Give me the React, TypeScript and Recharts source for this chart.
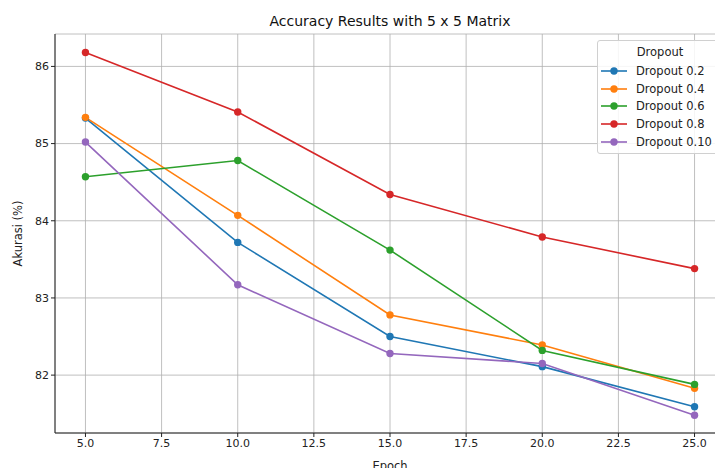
import React from 'react'
import { LineChart, Line, XAxis, YAxis, CartesianGrid } from 'recharts'

const epochs = [5, 10, 15, 20, 25]
const dropout02 = [85.33, 83.72, 82.5, 82.11, 81.59]
const dropout04 = [85.34, 84.07, 82.78, 82.39, 81.83]
const dropout06 = [84.57, 84.78, 83.62, 82.32, 81.88]
const dropout08 = [86.18, 85.41, 84.34, 83.79, 83.38]
const dropout010 = [85.02, 83.17, 82.28, 82.15, 81.48]

const xTicks = [5, 7.5, 10, 12.5, 15, 17.5, 20, 22.5, 25]
const yTicks = [82, 83, 84, 85, 86]

const series = [
  { key: 'd02', name: 'Dropout 0.2', color: '#1f77b4', values: dropout02 },
  { key: 'd04', name: 'Dropout 0.4', color: '#ff7f0e', values: dropout04 },
  { key: 'd06', name: 'Dropout 0.6', color: '#2ca02c', values: dropout06 },
  { key: 'd08', name: 'Dropout 0.8', color: '#d62728', values: dropout08 },
  { key: 'd010', name: 'Dropout 0.10', color: '#9467bd', values: dropout010 },
]

const data = epochs.map((epoch, i) => {
  const row: Record<string, number> = { epoch }
  series.forEach((s) => {
    row[s.key] = s.values[i]
  })
  return row
})

const font = '"DejaVu Sans", sans-serif'
const tickStyle = { fill: '#222', fontSize: 11, fontFamily: font }

const LegendBox = () => (
  <div
    style={{
      position: 'absolute',
      top: 40,
      left: 597,
      background: 'rgba(255,255,255,0.85)',
      border: '1px solid #d0d0d0',
      borderRadius: 3,
      padding: '2px 8px 3px 2px',
      fontFamily: font,
      fontSize: 11.5,
      color: '#222',
      width: 120,
    }}
  >
    <div style={{ textAlign: 'center', lineHeight: '18px', marginBottom: 1 }}>Dropout</div>
    {series.map((s) => (
      <div key={s.key} style={{ display: 'flex', alignItems: 'center', height: 17.7 }}>
        <svg width={30} height={10} style={{ marginRight: 6 }}>
          <line x1={1} y1={5} x2={27} y2={5} stroke={s.color} strokeWidth={1.6} />
          <circle cx={14} cy={5} r={3.7} fill={s.color} />
        </svg>
        <span style={{ whiteSpace: 'nowrap' }}>{s.name}</span>
      </div>
    ))}
  </div>
)

export default function App() {
  return (
    <div style={{ position: 'fixed', left: 0, top: 0, width: 715, height: 468, overflow: 'hidden', background: '#fff' }}>
      <div
        style={{
          position: 'absolute',
          top: 12,
          left: 0,
          width: 780,
          textAlign: 'center',
          fontFamily: font,
          fontSize: 14,
          color: '#111',
          lineHeight: '18px',
        }}
      >
        Accuracy Results with 5 x 5 Matrix
      </div>
      <LineChart width={760} height={468} data={data} margin={{ top: 34, right: 35, left: 0, bottom: 0 }}>
        <CartesianGrid stroke="#b0b0b0" strokeWidth={0.8} />
        <XAxis
          dataKey="epoch"
          type="number"
          domain={[4, 26]}
          ticks={xTicks}
          tickFormatter={(v: number) => v.toFixed(1)}
          tick={tickStyle}
          tickSize={4}
          tickLine={{ stroke: '#222' }}
          axisLine={{ stroke: '#222' }}
          height={35}
          allowDataOverflow
          label={{ value: 'Epoch', position: 'insideBottom', offset: 0, dy: 2, style: { fill: '#222', fontSize: 11.5, fontFamily: font } }}
        />
        <XAxis xAxisId="top" orientation="top" dataKey="epoch" type="number" domain={[4, 26]} tick={false} tickLine={false} axisLine={{ stroke: '#222' }} height={0} />
        <YAxis
          type="number"
          domain={[81.25, 86.42]}
          ticks={yTicks}
          tick={tickStyle}
          tickSize={4}
          tickLine={{ stroke: '#222' }}
          axisLine={{ stroke: '#222' }}
          width={55}
          allowDataOverflow
          label={{ value: 'Akurasi (%)', angle: -90, position: 'insideLeft', offset: 18, style: { textAnchor: 'middle', fill: '#222', fontSize: 11.5, fontFamily: font } }}
        />
        <YAxis yAxisId="right" orientation="right" domain={[81.25, 86.42]} tick={false} tickLine={false} axisLine={{ stroke: '#222' }} width={0} />
        {series.map((s) => (
          <Line
            key={s.key}
            dataKey={s.key}
            name={s.name}
            type="linear"
            stroke={s.color}
            strokeWidth={1.6}
            dot={{ r: 3.7, fill: s.color, stroke: s.color, strokeWidth: 0 }}
            activeDot={false}
            isAnimationActive={false}
          />
        ))}
      </LineChart>
      <LegendBox />
    </div>
  )
}
